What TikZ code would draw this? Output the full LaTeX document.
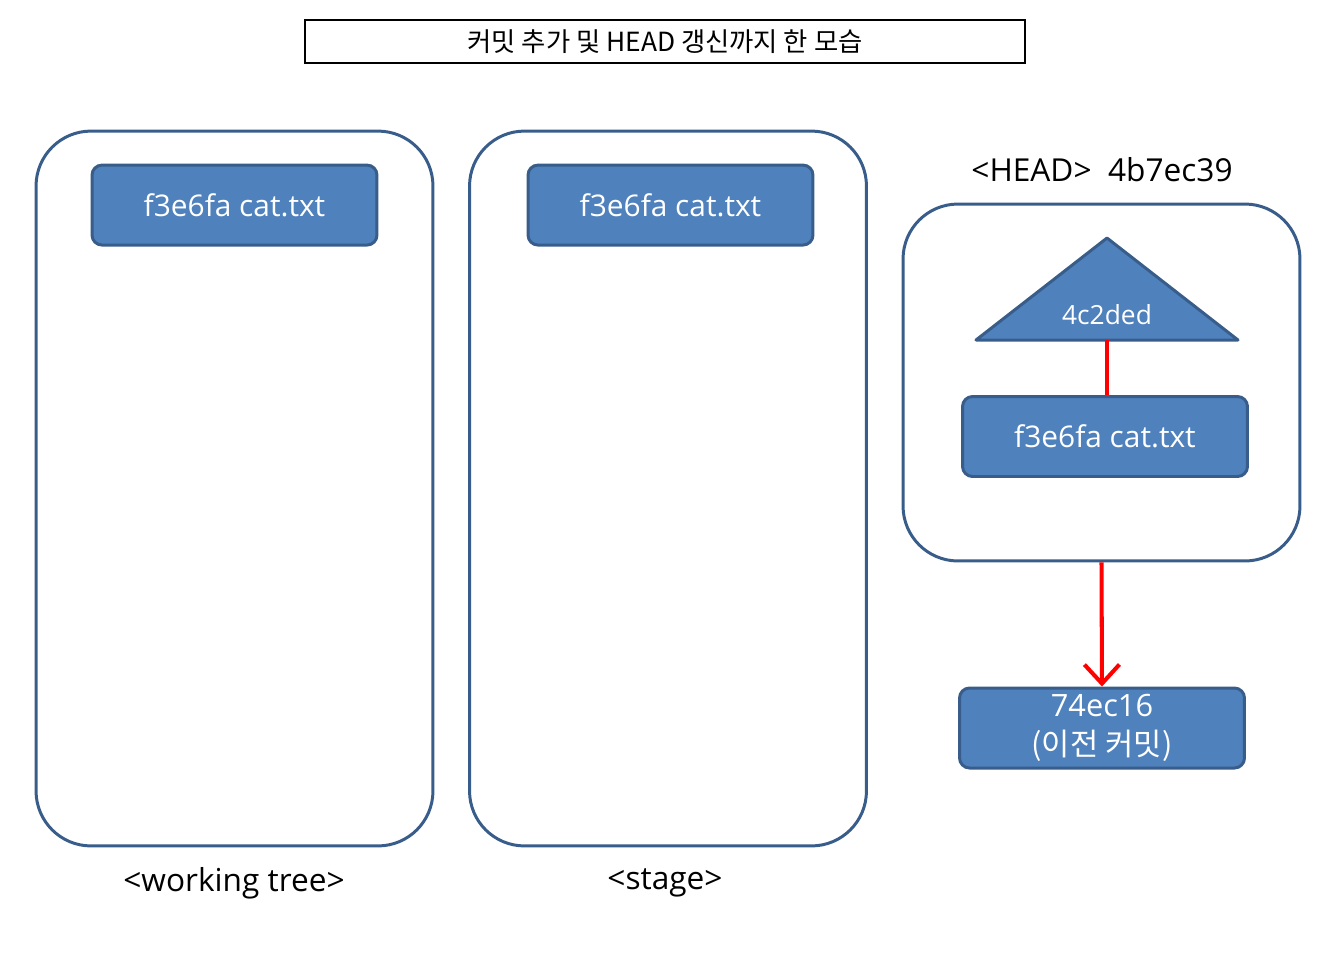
\documentclass[tikz,border=0pt]{standalone}
\usepackage{fontspec}
\setmainfont{Open Sans}
\newfontfamily\kr{Noto Sans CJK KR}
\usetikzlibrary{positioning,arrows.meta}
\definecolor{boxblue}{HTML}{4F81BD}
\definecolor{edgeblue}{HTML}{385D8A}

\begin{document}
\begin{tikzpicture}[x=0.02cm,y=-0.02cm]
\tikzstyle{titlebox}=[draw, line width=1.1pt, minimum width=14.4cm, minimum height=0.86cm, inner sep=0pt, font=\kr\fontsize{15}{18}\selectfont]
\tikzstyle{area}=[draw=edgeblue, line width=1.7pt, rounded corners=1.1cm, minimum width=7.94cm, minimum height=14.3cm]
\tikzstyle{file}=[draw=edgeblue, fill=boxblue, line width=1.7pt, rounded corners=0.2cm, minimum width=5.7cm, minimum height=1.6cm, inner sep=0pt, text=white, font=\fontsize{17}{20}\selectfont]
\tikzstyle{caption}=[font=\fontsize{18}{21}\selectfont]
\tikzstyle{link}=[red, line width=2.3pt]
\useasboundingbox (0,0) rectangle (1336,968);

\node[titlebox] (title) at (665,41.5) {커밋 추가 및 HEAD 갱신까지 한 모습};

\node[area] (work) at (234.5,488.5) {};
\node[area] (stage) at (668,488.5) {};
\node[area, minimum height=7.14cm] (head) at (1101.5,382.5) {};

\node[file] (wfile) [below=0.68cm of work.north]{f3e6fa\ cat.txt};
\node[file] (sfile) [below=0.68cm of stage.north, xshift=0.05cm]{f3e6fa\ cat.txt};
\node[file] (hfile) at (1105,436.5) {f3e6fa\ cat.txt};

\node[caption] (wlabel) at (234,883) {<working tree>};
\node[caption] (slabel) at (665,883) {<stage>};
\node[caption] (hlabel) at (1102,170) {<HEAD>\ \ 4b7ec39};

% tree object
\draw[draw=edgeblue, fill=boxblue, line width=1.7pt, line join=round] (976,340) -- (1107,238) -- (1238,340) -- cycle;
\node[text=white, font=\fontsize{15}{18}\selectfont] (tree) at (1107,315) {4c2ded};
\coordinate (treebase) at (1107,340);

\node[file, align=center, font=\fontsize{17.5}{22.5}\selectfont] (prev) at (1102,728) {74ec16\\{\kr (이전 커밋)}};

\draw[link] (treebase) -- (treebase |- hfile.north);
\draw[link, -{Straight Barb[length=0.38cm, width=0.7cm, line width=2.3pt]}] (head.south) -- (prev.north);

\end{tikzpicture}
\end{document}
